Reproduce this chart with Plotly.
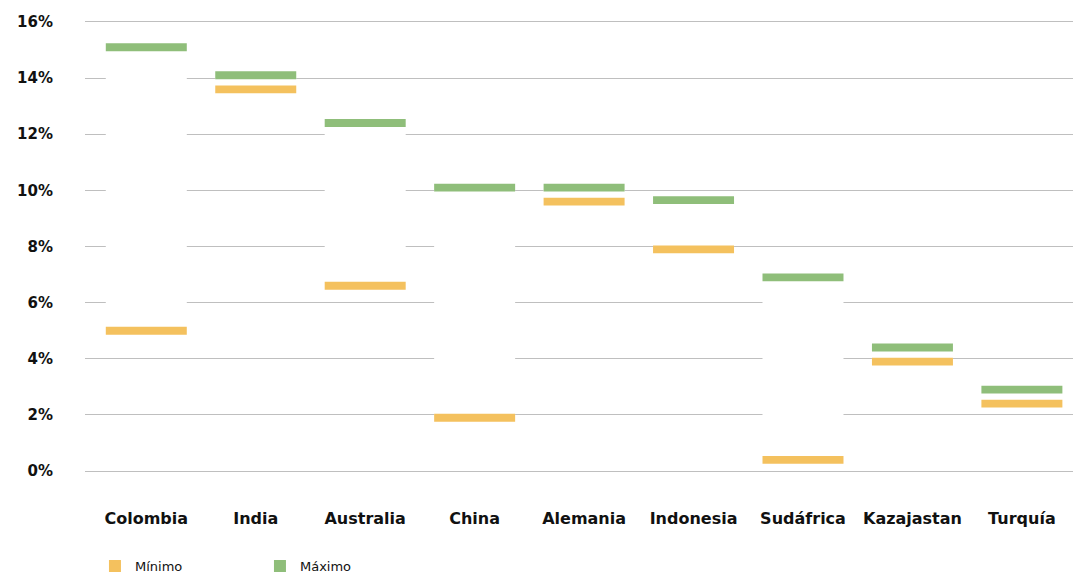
import plotly.graph_objects as go

categories = ["Colombia", "India", "Australia", "China", "Alemania", "Indonesia",
              "Sudáfrica", "Kazajastan", "Turquía"]
minimo = [5.0, 13.6, 6.6, 1.9, 9.6, 7.9, 0.4, 3.9, 2.4]
maximo = [15.1, 14.1, 12.4, 10.1, 10.1, 9.65, 6.9, 4.4, 2.9]
tick_vals = [0, 2, 4, 6, 8, 10, 12, 14, 16]
tick_text = ["0%", "2%", "4%", "6%", "8%", "10%", "12%", "14%", "16%"]

GREEN = "#8FBE7A"
ORANGE = "#F4C15E"
BAR_W = 0.74
THICK = 0.28  # dash thickness in axis units

fig = go.Figure()
# white floating band from min to max (hides gridlines)
fig.add_trace(go.Bar(x=categories, y=[mx - mn for mn, mx in zip(minimo, maximo)],
                     base=minimo, marker=dict(color="white", line=dict(width=0)),
                     width=BAR_W, showlegend=False, hoverinfo="skip"))
fig.add_trace(go.Bar(x=categories, y=[THICK] * len(minimo),
                     base=[v - THICK / 2 for v in minimo],
                     marker=dict(color=ORANGE, line=dict(width=0)),
                     width=BAR_W, name="Mínimo", customdata=minimo,
                     hovertemplate="%{x}: %{customdata}%<extra>Mínimo</extra>"))
fig.add_trace(go.Bar(x=categories, y=[THICK] * len(maximo),
                     base=[v - THICK / 2 for v in maximo],
                     marker=dict(color=GREEN, line=dict(width=0)),
                     width=BAR_W, name="Máximo", customdata=maximo,
                     hovertemplate="%{x}: %{customdata}%<extra>Máximo</extra>"))

fig.update_layout(
    width=1073, height=566,
    margin=dict(l=77, r=0, t=12, b=101),
    paper_bgcolor="white", plot_bgcolor="white",
    barmode="overlay",
    font=dict(family="DejaVu Sans, sans-serif", color="#111111"),
    xaxis=dict(range=[-0.56, 8.54], showgrid=False, showline=False, ticks="",
               tickfont=dict(size=16, weight="bold"), ticklabelstandoff=34),
    yaxis=dict(range=[-0.07, 16.07], tickvals=tick_vals, ticktext=tick_text,
               showgrid=True, gridcolor="#BFBFBF", gridwidth=1,
               zeroline=False, showline=False, ticks="",
               tickfont=dict(size=15, weight="bold"), ticklabelstandoff=31),
    legend=dict(orientation="h", x=0.01, xanchor="left",
                yref="container", y=0.014, yanchor="middle",
                font=dict(size=13), entrywidth=120, traceorder="normal"),
)

fig.write_html("out.html")
